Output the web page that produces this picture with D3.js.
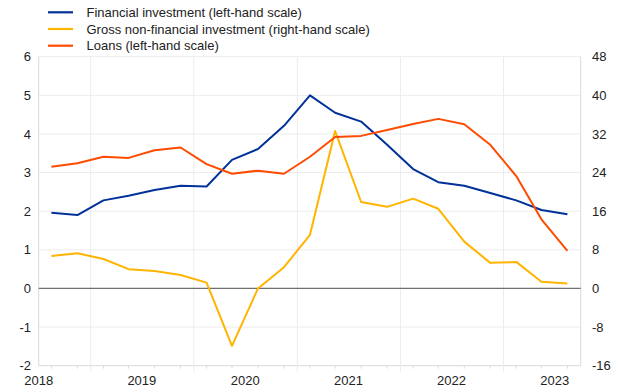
<!DOCTYPE html>
<html>
<head>
<meta charset="utf-8">
<script src="https://cdn.jsdelivr.net/npm/d3@7"></script>
<style>
  body { margin: 0; background: #fff; }
  svg { display: block; font-family: Arial, "Liberation Sans", sans-serif; }
</style>
</head>
<body>
<div id="chart"></div>
<script>
var width = 620;
var height = 388;
var margin = ({top: 56.7, right: 39.3, bottom: 22, left: 38.7});

// quarters, Q3 2018 to Q3 2023
var quarters = ["2018Q3","2018Q4","2019Q1","2019Q2","2019Q3","2019Q4","2020Q1","2020Q2","2020Q3","2020Q4",
  "2021Q1","2021Q2","2021Q3","2021Q4","2022Q1","2022Q2","2022Q3","2022Q4","2023Q1","2023Q2","2023Q3"];

var financialInvestment = [1.96,1.90,2.28,2.40,2.55,2.66,2.64,3.33,3.61,4.21,5.00,4.55,4.32,3.72,3.09,2.75,2.66,2.47,2.28,2.03,1.92];
var loans = [3.15,3.24,3.41,3.38,3.58,3.65,3.22,2.97,3.05,2.97,3.41,3.92,3.95,4.10,4.26,4.39,4.25,3.72,2.91,1.79,0.97];
var grossNonFin = [6.7,7.3,6.1,4.0,3.6,2.8,1.2,-11.9,0.0,4.4,11.1,32.6,17.9,16.9,18.6,16.5,9.7,5.3,5.5,1.4,1.0];

var leftTicks = [-2,-1,0,1,2,3,4,5,6];
var rightTicks = [-16,-8,0,8,16,24,32,40,48];
var yearLabels = [2018,2019,2020,2021,2022,2023];

var series = [
  {name: "Financial investment (left-hand scale)", values: financialInvestment, color: "#003299", axis: "left"},
  {name: "Gross non-financial investment (right-hand scale)", values: grossNonFin, color: "#ffb400", axis: "right"},
  {name: "Loans (left-hand scale)", values: loans, color: "#ff4b00", axis: "left"}
];

// mid-quarter date
function qDate(q) {
  var yr = +q.slice(0, 4), qn = +q.slice(5);
  return new Date(yr, (qn - 1) * 3 + 1, 15);
}

var x = d3.scaleTime()
  .domain([new Date(2018, 6, 1), new Date(2023, 9, 1)])
  .range([margin.left, width - margin.right]);

var y = d3.scaleLinear()
  .domain([-2, 6])
  .range([height - margin.bottom - 0.3, margin.top]);

var y2 = d3.scaleLinear()
  .domain([-16, 48])
  .range(y.range());

var svg = d3.select("#chart").append("svg")
  .attr("width", width)
  .attr("height", height)
  .attr("viewBox", [0, 0, width, height]);

var plotBottom = y(-2), plotTop = y(6);

// horizontal grid
svg.append("g")
  .selectAll("line")
  .data(leftTicks)
  .join("line")
    .attr("x1", margin.left)
    .attr("x2", width - margin.right)
    .attr("y1", d => y(d))
    .attr("y2", d => y(d))
    .attr("stroke", d => d === -2 ? "#d9d9d9" : "#ececec")
    .attr("stroke-width", 1);

// vertical grid at year starts
var yearStarts = yearLabels.slice(1).map(d => new Date(d, 0, 1));
svg.append("g")
  .selectAll("line")
  .data(yearStarts)
  .join("line")
    .attr("x1", d => x(d))
    .attr("x2", d => x(d))
    .attr("y1", plotTop)
    .attr("y2", plotBottom + 6)
    .attr("stroke", "#ececec")
    .attr("stroke-width", 1);

// minor ticks at the data points
svg.append("g")
  .selectAll("line")
  .data(quarters)
  .join("line")
    .attr("x1", d => x(qDate(d)))
    .attr("x2", d => x(qDate(d)))
    .attr("y1", plotBottom)
    .attr("y2", plotBottom + 3)
    .attr("stroke", "#dcdcdc");

// plot frame sides
svg.append("line")
  .attr("x1", margin.left).attr("x2", margin.left)
  .attr("y1", plotTop).attr("y2", plotBottom)
  .attr("stroke", "#d9d9d9");
svg.append("line")
  .attr("x1", width - margin.right).attr("x2", width - margin.right)
  .attr("y1", plotTop).attr("y2", plotBottom)
  .attr("stroke", "#d9d9d9");

// zero line
svg.append("line")
  .attr("x1", margin.left)
  .attr("x2", width - margin.right)
  .attr("y1", y(0))
  .attr("y2", y(0))
  .attr("stroke", "#707070")
  .attr("stroke-width", 1.3);

// axis labels
svg.append("g")
  .selectAll("text")
  .data(leftTicks)
  .join("text")
    .attr("x", 31)
    .attr("y", d => y(d))
    .attr("dy", "0.35em")
    .attr("text-anchor", "end")
    .attr("font-size", 13)
    .attr("fill", "#222")
    .text(d => d);

svg.append("g")
  .selectAll("text")
  .data(rightTicks)
  .join("text")
    .attr("x", 592)
    .attr("y", d => y2(d))
    .attr("dy", "0.35em")
    .attr("text-anchor", "start")
    .attr("font-size", 13)
    .attr("fill", "#222")
    .text(d => d);

svg.append("g")
  .selectAll("text")
  .data(yearLabels)
  .join("text")
    .attr("x", d => x(new Date(d, 6, 1)))
    .attr("y", 385)
    .attr("text-anchor", "middle")
    .attr("font-size", 13)
    .attr("fill", "#222")
    .text(d => d);

// lines
series.forEach(function(s) {
  var sc = s.axis === "left" ? y : y2;
  var line = d3.line()
    .x((d, i) => x(qDate(quarters[i])))
    .y(d => sc(d));
  svg.append("path")
    .datum(s.values)
    .attr("fill", "none")
    .attr("stroke", s.color)
    .attr("stroke-width", 2)
    .attr("stroke-linejoin", "round")
    .attr("d", line);
});

// legend
var legend = svg.append("g");
series.forEach(function(s, i) {
  var ly = 12.3 + i * 16.7;
  legend.append("line")
    .attr("x1", 48).attr("x2", 73)
    .attr("y1", ly).attr("y2", ly)
    .attr("stroke", s.color)
    .attr("stroke-width", 2.2);
  legend.append("text")
    .attr("x", 86.5)
    .attr("y", ly)
    .attr("dy", "0.35em")
    .attr("font-size", 13)
    .attr("fill", "#222")
    .text(s.name);
});
</script>
</body>
</html>
